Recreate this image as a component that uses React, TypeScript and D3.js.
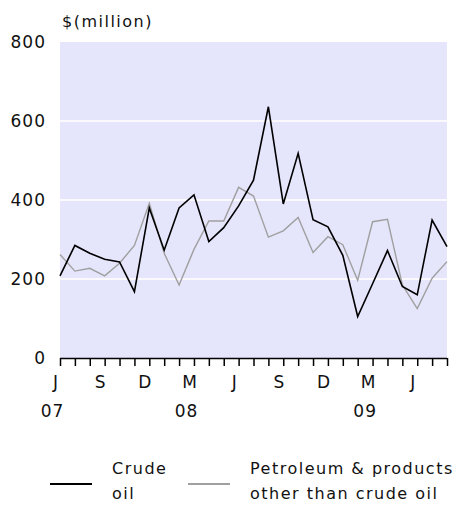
import React, { useEffect, useRef } from 'react';
import * as d3 from 'd3';

// monthly, Jul 2007 .. Sep 2009
const months = [
    '2007-07', '2007-08', '2007-09', '2007-10', '2007-11', '2007-12',
    '2008-01', '2008-02', '2008-03', '2008-04', '2008-05', '2008-06',
    '2008-07', '2008-08', '2008-09', '2008-10', '2008-11', '2008-12',
    '2009-01', '2009-02', '2009-03', '2009-04', '2009-05', '2009-06',
    '2009-07', '2009-08', '2009-09',
];
const crudeOil = [208, 285, 265, 250, 243, 168, 380, 273, 380, 413, 295, 330, 385, 450, 636, 390, 518, 350, 332, 260, 105, 188, 272, 181, 160, 349, 282];
const otherProducts = [262, 220, 227, 208, 240, 285, 392, 265, 185, 275, 347, 347, 432, 410, 306, 322, 356, 267, 307, 287, 197, 345, 351, 185, 125, 202, 244];
const yTicks = [0, 200, 400, 600, 800];
const monthLabels = ['J', 'S', 'D', 'M', 'J', 'S', 'D', 'M', 'J'];
const yearLabels = ['07', '08', '09'];
const yearUnder = [0, 3, 7]; // which month label each year sits under

const App: React.FC = () => {
    const ref = useRef<SVGSVGElement>(null);

    useEffect(() => {
        const svg = d3.select(ref.current);
        svg.selectAll('*').remove();

        const left = 60, right = 447, top = 42, bottom = 358;
        const font = 'DejaVu Sans, sans-serif';

        const x = d3.scaleLinear().domain([0, months.length - 1]).range([left, right]);
        const y = d3.scaleLinear().domain([0, 800]).range([bottom, top]);

        // plot background
        svg.append('rect')
            .attr('x', left).attr('y', top)
            .attr('width', right - left).attr('height', bottom - top)
            .attr('fill', '#e5e5fc');

        // gridlines
        svg.selectAll('.grid')
            .data(yTicks.filter(d => d > 0 && d < 800))
            .enter().append('line')
            .attr('x1', left).attr('x2', right)
            .attr('y1', d => y(d)).attr('y2', d => y(d))
            .attr('stroke', '#fff').attr('stroke-width', 1.5);

        // y labels
        svg.selectAll('.ylab')
            .data(yTicks)
            .enter().append('text')
            .attr('x', 46).attr('y', d => y(d))
            .attr('dy', '0.35em')
            .attr('text-anchor', 'end')
            .attr('font-family', font).attr('font-size', 17)
            .attr('letter-spacing', 1)
            .attr('fill', '#111')
            .text(d => d);

        svg.append('text')
            .attr('x', 62).attr('y', 27)
            .attr('font-family', font).attr('font-size', 16)
            .attr('letter-spacing', 1.5)
            .attr('fill', '#111')
            .text('$(million)');

        // x axis
        const xAxis = svg.append('g')
            .attr('transform', `translate(0,${bottom})`)
            .call(d3.axisBottom(x).tickValues(d3.range(months.length)).tickSize(8).tickFormat(() => ''));
        xAxis.select('.domain').attr('stroke', '#000').attr('stroke-width', 1.5).attr('d', `M${left},0.5H${right}`);
        xAxis.selectAll('.tick line').attr('stroke', '#000').attr('stroke-width', 1.5);

        svg.selectAll('.mlab')
            .data(monthLabels)
            .enter().append('text')
            .attr('x', (d, i) => x(i * 3 - 0.3))
            .attr('y', 388)
            .attr('text-anchor', 'middle')
            .attr('font-family', font).attr('font-size', 17)
            .attr('fill', '#111')
            .text(d => d);

        svg.selectAll('.yrlab')
            .data(yearLabels)
            .enter().append('text')
            .attr('x', (d, i) => x(yearUnder[i] * 3 - 0.5))
            .attr('y', 417)
            .attr('text-anchor', 'middle')
            .attr('font-family', font).attr('font-size', 17)
            .attr('letter-spacing', 1)
            .attr('fill', '#111')
            .text(d => d);

        // lines
        const line = d3.line<number>()
            .x((d, i) => x(i))
            .y(d => y(d));

        svg.append('path')
            .datum(otherProducts)
            .attr('d', line)
            .attr('fill', 'none')
            .attr('stroke', '#a0a0a0')
            .attr('stroke-width', 1.4);

        svg.append('path')
            .datum(crudeOil)
            .attr('d', line)
            .attr('fill', 'none')
            .attr('stroke', '#000')
            .attr('stroke-width', 1.6);

        // legend
        const legend = [
            { color: '#000', x0: 50, lines: ['Crude', 'oil'] },
            { color: '#a0a0a0', x0: 188, lines: ['Petroleum & products', 'other than crude oil'] },
        ];
        legend.forEach(l => {
            svg.append('line')
                .attr('x1', l.x0).attr('x2', l.x0 + 42)
                .attr('y1', 484).attr('y2', 484)
                .attr('stroke', l.color).attr('stroke-width', 2);
            l.lines.forEach((t, i) => {
                svg.append('text')
                    .attr('x', l.x0 + 62).attr('y', 474 + i * 25)
                    .attr('font-family', font).attr('font-size', 16)
                    .attr('letter-spacing', 1.5)
                    .attr('fill', '#111')
                    .text(t);
            });
        });
    }, []);

    return (
        <svg ref={ref} width={456} height={510}
            style={{ position: 'absolute', left: 0, top: 0, background: '#fff' }} />
    );
};

export default App;
